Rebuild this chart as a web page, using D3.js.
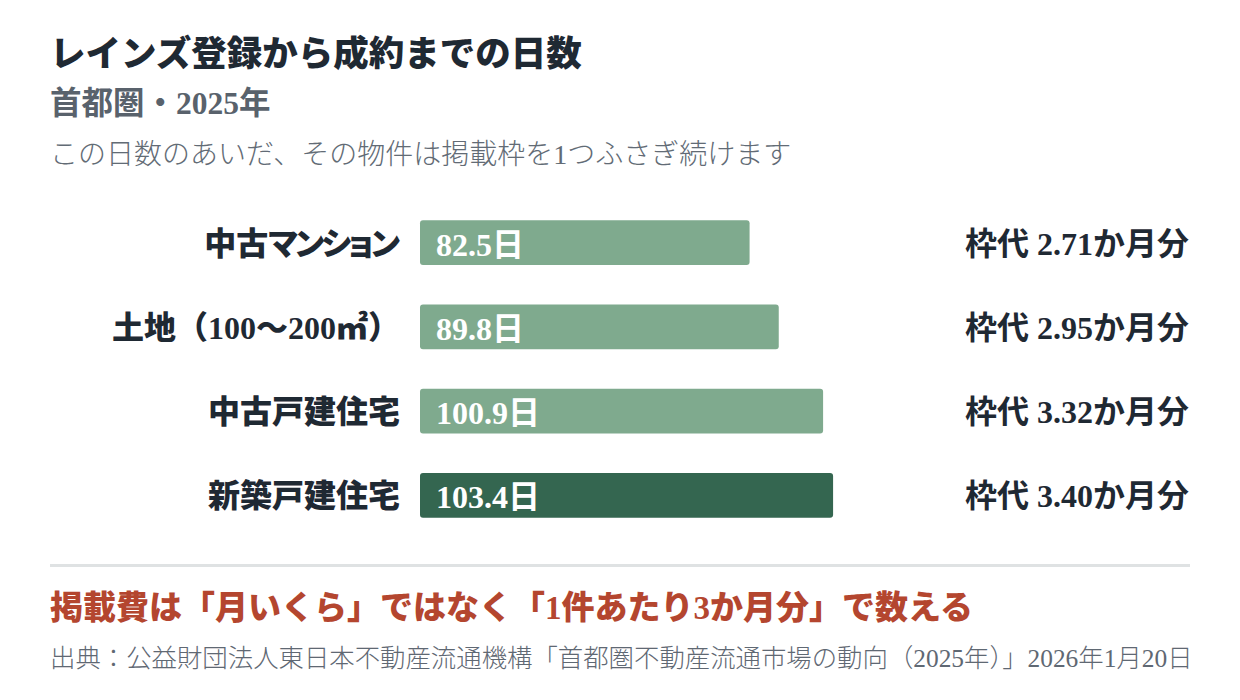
<!DOCTYPE html>
<html><head><meta charset="utf-8">
<script src="https://cdn.jsdelivr.net/npm/d3@7"></script>
<style>
html,body{margin:0;padding:0;background:#fff;}
svg{display:block;font-family:"Liberation Serif","Noto Sans CJK JP",serif;}
.kana{font-feature-settings:"palt" 1;letter-spacing:-3px;}
.kanaEnd{font-feature-settings:"palt" 1;}
</style></head>
<body><svg id="chart" width="1240" height="700"></svg>
<script>
const categories = ["中古マンション","土地（100～200㎡）","中古戸建住宅","新築戸建住宅"];
const days = [82.5, 89.8, 100.9, 103.4];
const months = ["2.71","2.95","3.32","3.40"];
const highlight = [false,false,false,true];
const title = "レインズ登録から成約までの日数";
const subtitle = "首都圏・2025年";
const note = "この日数のあいだ、その物件は掲載枠を1つふさぎ続けます";
const takeaway = "掲載費は「月いくら」ではなく「1件あたり3か月分」で数える";
const source = "出典：公益財団法人東日本不動産流通機構「首都圏不動産流通市場の動向（2025年）」2026年1月20日";

const svg = d3.select("#chart");
const ink = "#1f2933";

svg.append("text").attr("x",50).attr("y",66).attr("font-size",35.5).attr("font-weight",900)
  .attr("fill",ink).text(title);
svg.append("text").attr("x",50).attr("y",114).attr("font-size",31.5).attr("font-weight",700)
  .attr("fill","#59626c").text(subtitle);
svg.append("text").attr("x",50).attr("y",164).attr("font-size",28).attr("font-weight",300)
  .attr("fill","#626b75").text(note);

const x = d3.scaleLinear().domain([0,120]).range([420, 420+120*3.995]);
const y = d3.scaleBand().domain(categories).range([201,537]).paddingInner(0.47).paddingOuter(0.23);

const rows = svg.append("g").selectAll("g").data(categories).join("g")
  .attr("transform", d => `translate(0,${y(d)})`);

rows.append("rect").attr("x", x(0)).attr("y",0)
  .attr("width",(d,i)=>x(days[i])-x(0)).attr("height",y.bandwidth())
  .attr("rx",3).attr("fill",(d,i)=>highlight[i]?"#346650":"#7faa8e");

rows.append("text").attr("x",x(0)+16).attr("y",y.bandwidth()/2+13)
  .attr("font-size",32).attr("font-weight",700).attr("fill","#fff")
  .text((d,i)=>days[i]+"日");

const catText = rows.append("text").attr("x",400).attr("y",y.bandwidth()/2+12).attr("text-anchor","end")
  .attr("font-size",32).attr("font-weight",900).attr("fill",ink);
catText.each(function(d){
  const runs = d.match(/[\u30A0-\u30FF]+|[^\u30A0-\u30FF]+/g);
  const t = d3.select(this);
  runs.forEach((r, k) => {
    if (/[\u30A0-\u30FF]/.test(r)) {
      if (k === runs.length - 1 && r.length > 1) {
        t.append("tspan").attr("class","kana").text(r.slice(0,-1));
        t.append("tspan").attr("class","kanaEnd").text(r.slice(-1));
      } else {
        t.append("tspan").attr("class","kana").text(r);
      }
    } else {
      t.append("tspan").text(r);
    }
  });
});

rows.append("text").attr("x",965).attr("y",y.bandwidth()/2+12)
  .attr("font-size",32).attr("font-weight",700).attr("fill",ink)
  .text((d,i)=>"枠代 "+months[i]+"か月分");

svg.append("line").attr("x1",50).attr("x2",1190).attr("y1",565.5).attr("y2",565.5)
  .attr("stroke","#dfe2e3").attr("stroke-width",3);

svg.append("text").attr("x",50).attr("y",619).attr("font-size",33).attr("font-weight",900)
  .attr("fill","#b4462f").text(takeaway);
svg.append("text").attr("x",50).attr("y",667).attr("font-size",25.4).attr("font-weight",300)
  .attr("fill","#5f6873").text(source);
</script></body></html>
